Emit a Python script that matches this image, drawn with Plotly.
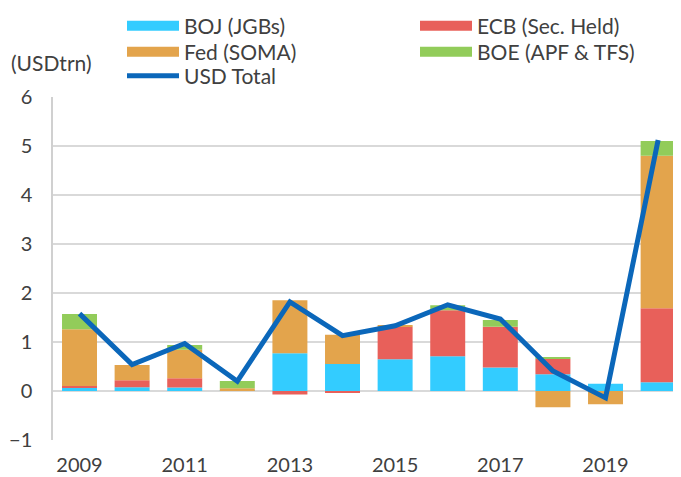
import plotly.graph_objects as go

years = [2009, 2010, 2011, 2012, 2013, 2014, 2015, 2016, 2017, 2018, 2019, 2020]
boj = [0.07, 0.075, 0.07, 0.02, 0.77, 0.55, 0.65, 0.71, 0.48, 0.34, 0.15, 0.18]
ecb = [0.03, 0.145, 0.19, 0.0, -0.07, -0.04, 0.66, 0.94, 0.83, 0.32, 0.0, 1.51]
fed = [1.16, 0.31, 0.58, 0.035, 1.08, 0.6, 0.02, 0.0, 0.0, -0.33, -0.27, 3.11]
boe = [0.31, 0.0, 0.1, 0.15, 0.0, 0.0, 0.0, 0.1, 0.14, 0.03, 0.0, 0.3]
usd_total = [1.58, 0.54, 0.97, 0.2, 1.82, 1.13, 1.33, 1.76, 1.47, 0.41, -0.14, 5.12]
y_ticks = [-1, 0, 1, 2, 3, 4, 5, 6]
x_ticks = [2009, 2011, 2013, 2015, 2017, 2019]

series = [
    ("BOJ (JGBs)", boj, "#33CCFF", "legend"),
    ("ECB (Sec. Held)", ecb, "#E8605A", "legend"),
    ("Fed (SOMA)", fed, "#E3A44C", "legend2"),
    ("BOE (APF & TFS)", boe, "#92CC5A", "legend2"),
]

FONT = "Lato"
TXT = "#404040"
# the page body has an 8px margin, so the figure is drawn 8px in from the top-left
OFF = 8
W, H = 681 - OFF, 477 - OFF
ML, MT, MB = 53 - OFF, 97 - OFF, 37
PW, PH = W - ML, H - MT - MB

fig = go.Figure()
for name, vals, col, lg in series:
    fig.add_trace(go.Bar(x=years, y=vals, name=name, marker=dict(color=col, line=dict(width=0)),
                         showlegend=False, legendgroup=name))
fig.add_trace(go.Scatter(x=years, y=usd_total, mode="lines", name="USD Total",
                         line=dict(color="#0B67BA", width=5), showlegend=False))

# legend proxies (wide swatches)
for name, vals, col, lg in series:
    fig.add_trace(go.Scatter(x=[None], y=[None], mode="lines", name=name, legendgroup=name,
                             legend=lg, line=dict(color=col, width=12)))
fig.add_trace(go.Scatter(x=[None], y=[None], mode="lines", name="USD Total",
                         legend="legend3", line=dict(color="#0B67BA", width=5)))


def leg(row_y_px):
    y_fig = row_y_px - OFF
    return dict(orientation="h", x=(122 - OFF - ML) / PW, y=(H - MB - y_fig) / PH,
                xanchor="left", yanchor="middle",
                entrywidth=226, entrywidthmode="pixels", itemwidth=52,
                font=dict(family=FONT, size=21, color=TXT), traceorder="normal",
                bgcolor="rgba(0,0,0,0)")


fig.update_layout(
    width=W, height=H,
    margin=dict(l=ML, r=0, t=MT, b=MB, autoexpand=False),
    paper_bgcolor="white", plot_bgcolor="white",
    barmode="relative", bargap=0.335,
    font=dict(family=FONT, color=TXT, size=20),
    legend=leg(26), legend2=leg(52), legend3=leg(76),
    xaxis=dict(range=[2008.496, 2020.435], tickvals=x_ticks, ticktext=[str(v) for v in x_ticks],
               showgrid=False, showline=False, zeroline=False, ticks="",
               ticklabelstandoff=11, tickfont=dict(size=20)),
    yaxis=dict(range=[-1, 6], tickvals=y_ticks, showgrid=True, gridcolor="#D9D9D9", gridwidth=1.5,
               zeroline=False, showline=True, linecolor="#D0D0D0", linewidth=1.5, ticks="",
               ticklabelstandoff=15, tickfont=dict(size=20)),
    annotations=[dict(text="(USDtrn)", xref="paper", yref="paper",
                      x=(9 - OFF - ML) / PW, y=(H - MB - (63 - OFF)) / PH, xanchor="left", yanchor="middle",
                      showarrow=False, font=dict(family=FONT, size=21, color=TXT))],
)

fig.write_html("out.html")
